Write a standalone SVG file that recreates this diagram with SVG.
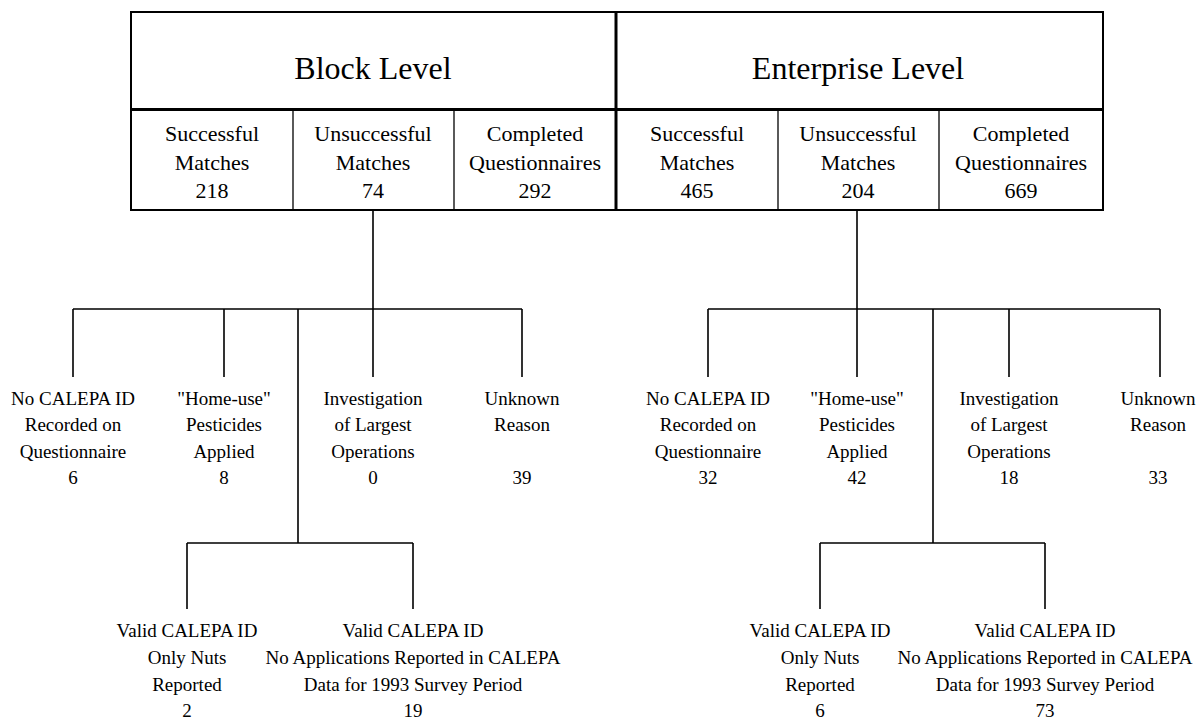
<svg xmlns="http://www.w3.org/2000/svg" width="1200" height="719" viewBox="0 0 1200 719">
<style>
text{font-family:"Liberation Serif","Times New Roman",serif;fill:#000;text-anchor:middle}
.hd{font-size:32px}
.cl{font-size:22px}
.lb{font-size:19px}
.box{fill:#fff;stroke:#000;stroke-width:2}
.thin{stroke:#000;stroke-width:1.3;fill:none}
.thick{stroke:#000;stroke-width:3;fill:none}
.conn{stroke:#000;stroke-width:1.6;fill:none}
</style>
<rect width="1200" height="719" fill="#fff"/>
<g id="block-level">
<rect class="box" x="131" y="12" width="485" height="198"/>
<line class="thick" x1="131" y1="109.5" x2="616" y2="109.5"/>
<text class="hd" x="373" y="79">Block Level</text>
</g>
<g id="enterprise-level">
<rect class="box" x="616" y="12" width="487" height="198"/>
<line class="thick" x1="616" y1="109.5" x2="1103" y2="109.5"/>
<text class="hd" x="858" y="79">Enterprise Level</text>
</g>
<line class="thick" x1="616" y1="12" x2="616" y2="210"/>
<g id="block-successful">
<text class="cl" x="212" y="141">Successful</text>
<text class="cl" x="212" y="170">Matches</text>
<text class="cl" x="212" y="198">218</text>
</g>
<g id="block-unsuccessful">
<line class="thin" x1="293" y1="109" x2="293" y2="210"/>
<text class="cl" x="373" y="141">Unsuccessful</text>
<text class="cl" x="373" y="170">Matches</text>
<text class="cl" x="373" y="198">74</text>
</g>
<g id="block-completed">
<line class="thin" x1="454" y1="109" x2="454" y2="210"/>
<text class="cl" x="535" y="141">Completed</text>
<text class="cl" x="535" y="170">Questionnaires</text>
<text class="cl" x="535" y="198">292</text>
</g>
<g id="ent-successful">
<text class="cl" x="697" y="141">Successful</text>
<text class="cl" x="697" y="170">Matches</text>
<text class="cl" x="697" y="198">465</text>
</g>
<g id="ent-unsuccessful">
<line class="thin" x1="778" y1="109" x2="778" y2="210"/>
<text class="cl" x="858" y="141">Unsuccessful</text>
<text class="cl" x="858" y="170">Matches</text>
<text class="cl" x="858" y="198">204</text>
</g>
<g id="ent-completed">
<line class="thin" x1="939" y1="109" x2="939" y2="210"/>
<text class="cl" x="1021" y="141">Completed</text>
<text class="cl" x="1021" y="170">Questionnaires</text>
<text class="cl" x="1021" y="198">669</text>
</g>
<g id="connectors">
<path class="conn" d="M373 210V309M73 309H522M73 309V377M224 309V377M373 309V377M522 309V377M298 309V543M187 543H413M187 543V609M413 543V609"/>
<path class="conn" d="M857 210V309M708 309H1160M708 309V377M857 309V377M1009 309V377M1160 309V377M933 309V543M820 543H1045M820 543V609M1045 543V609"/>
</g>
<g id="b-noid">
<text class="lb" x="73" y="405">No CALEPA ID</text>
<text class="lb" x="73" y="431">Recorded on</text>
<text class="lb" x="73" y="458">Questionnaire</text>
<text class="lb" x="73" y="484">6</text>
</g>
<g id="b-home">
<text class="lb" x="224" y="405">"Home-use"</text>
<text class="lb" x="224" y="431">Pesticides</text>
<text class="lb" x="224" y="458">Applied</text>
<text class="lb" x="224" y="484">8</text>
</g>
<g id="b-invest">
<text class="lb" x="373" y="405">Investigation</text>
<text class="lb" x="373" y="431">of Largest</text>
<text class="lb" x="373" y="458">Operations</text>
<text class="lb" x="373" y="484">0</text>
</g>
<g id="b-unknown">
<text class="lb" x="522" y="405">Unknown</text>
<text class="lb" x="522" y="431">Reason</text>
<text class="lb" x="522" y="484">39</text>
</g>
<g id="b-nuts">
<text class="lb" x="187" y="637">Valid CALEPA ID</text>
<text class="lb" x="187" y="664">Only Nuts</text>
<text class="lb" x="187" y="691">Reported</text>
<text class="lb" x="187" y="717">2</text>
</g>
<g id="b-noapp">
<text class="lb" x="413" y="637">Valid CALEPA ID</text>
<text class="lb" x="413" y="664">No Applications Reported in CALEPA</text>
<text class="lb" x="413" y="691">Data for 1993 Survey Period</text>
<text class="lb" x="413" y="717">19</text>
</g>
<g id="e-noid">
<text class="lb" x="708" y="405">No CALEPA ID</text>
<text class="lb" x="708" y="431">Recorded on</text>
<text class="lb" x="708" y="458">Questionnaire</text>
<text class="lb" x="708" y="484">32</text>
</g>
<g id="e-home">
<text class="lb" x="857" y="405">"Home-use"</text>
<text class="lb" x="857" y="431">Pesticides</text>
<text class="lb" x="857" y="458">Applied</text>
<text class="lb" x="857" y="484">42</text>
</g>
<g id="e-invest">
<text class="lb" x="1009" y="405">Investigation</text>
<text class="lb" x="1009" y="431">of Largest</text>
<text class="lb" x="1009" y="458">Operations</text>
<text class="lb" x="1009" y="484">18</text>
</g>
<g id="e-unknown">
<text class="lb" x="1158" y="405">Unknown</text>
<text class="lb" x="1158" y="431">Reason</text>
<text class="lb" x="1158" y="484">33</text>
</g>
<g id="e-nuts">
<text class="lb" x="820" y="637">Valid CALEPA ID</text>
<text class="lb" x="820" y="664">Only Nuts</text>
<text class="lb" x="820" y="691">Reported</text>
<text class="lb" x="820" y="717">6</text>
</g>
<g id="e-noapp">
<text class="lb" x="1045" y="637">Valid CALEPA ID</text>
<text class="lb" x="1045" y="664">No Applications Reported in CALEPA</text>
<text class="lb" x="1045" y="691">Data for 1993 Survey Period</text>
<text class="lb" x="1045" y="717">73</text>
</g>
</svg>
